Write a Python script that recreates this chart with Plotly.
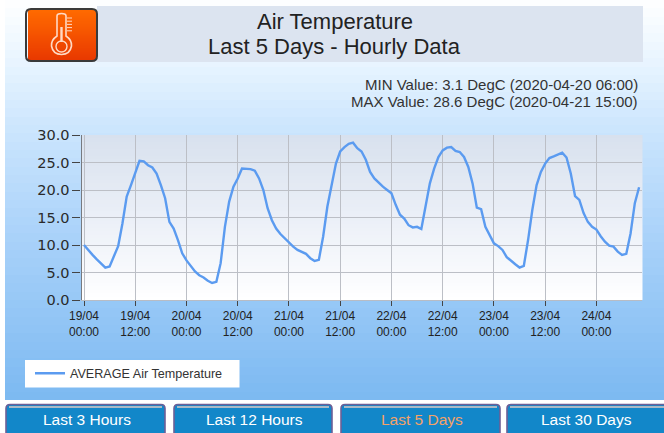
import pandas as pd
import plotly.graph_objects as go

W, H = 664, 433

hourly_temp = [
    10.0, 9.0, 8.2, 7.4, 6.7, 5.9, 6.1, 7.9, 9.8, 13.9, 18.8, 20.9,
    23.0, 25.3, 25.2, 24.5, 24.1, 23.0, 20.9, 18.5, 14.2, 13.0, 10.9, 8.5,
    7.2, 6.1, 5.2, 4.5, 4.1, 3.5, 3.1, 3.3, 6.7, 13.3, 17.9, 20.6,
    22.1, 23.9, 23.9, 23.8, 23.5, 22.1, 20.0, 16.7, 14.5, 13.0, 12.0, 11.2,
    10.5, 9.7, 9.1, 8.7, 8.4, 7.6, 7.1, 7.3, 11.5, 17.0, 20.9, 24.8,
    27.0, 27.8, 28.4, 28.6, 27.6, 27.0, 25.5, 23.3, 22.1, 21.3, 20.6, 20.0,
    19.4, 17.3, 15.5, 14.8, 13.6, 13.2, 13.3, 12.9, 17.3, 21.2, 23.9, 26.0,
    27.2, 27.7, 27.8, 27.1, 26.9, 26.0, 24.2, 21.2, 16.8, 16.5, 13.3, 11.8,
    10.3, 9.8, 9.1, 7.8, 7.1, 6.5, 5.9, 6.2, 10.9, 16.4, 20.9, 23.3,
    24.8, 25.8, 26.1, 26.4, 26.8, 25.9, 23.0, 18.9, 18.2, 15.8, 14.2, 13.3,
    12.8, 11.6, 10.6, 9.9, 9.7, 8.8, 8.2, 8.4, 12.1, 17.6, 20.5,
]
times = pd.date_range("2020-04-19 00:00", periods=len(hourly_temp), freq="h")
x_tick_times = pd.date_range("2020-04-19 00:00", periods=11, freq="12h")
x_tick_labels = [t.strftime("%d/%m<br>%H:%M") for t in x_tick_times]
y_ticks = [0, 5, 10, 15, 20, 25, 30]
y_labels = ["0.0", "5.0", "10.0", "15.0", "20.0", "25.0", "30.0"]
button_labels = ["Last 3 Hours", "Last 12 Hours", "Last 5 Days", "Last 30 Days"]
button_colors = ["#ffffff", "#ffffff", "#f5a267", "#ffffff"]
button_edges = [(6, 165), (174, 332), (341, 500), (507, 668)]
title_line_1 = "Air Temperature"
title_line_2 = "Last 5 Days - Hourly Data"
min_text = "MIN Value: 3.1 DegC (2020-04-20 06:00)"
max_text = "MAX Value: 28.6 DegC (2020-04-21 15:00)"
series_name = "AVERAGE Air Temperature"

FONT = "Liberation Sans"
LEFT, RIGHT, TOP, BOTTOM = 81.5, 642, 135, 300
PX_PER_HOUR = 4.27
FIRST_TICK_PX = 84


def gradient(x0, x1, y0, y1, colours, steps=48):
    edges = [y0 + (y1 - y0) * i / steps for i in range(steps + 1)]
    z = [[(i + 0.5) / steps] for i in range(steps)]
    return go.Heatmap(
        x=[x0, x1], y=edges, z=z, zmin=0, zmax=1, colorscale=colours,
        showscale=False, hoverinfo="skip", xaxis="x", yaxis="y",
    )


def rounded(x0, y0, x1, y1, r):
    return (
        f"M{x0 + r},{y0} L{x1 - r},{y0} Q{x1},{y0} {x1},{y0 + r} L{x1},{y1 - r} "
        f"Q{x1},{y1} {x1 - r},{y1} L{x0 + r},{y1} Q{x0},{y1} {x0},{y1 - r} "
        f"L{x0},{y0 + r} Q{x0},{y0} {x0 + r},{y0} Z"
    )


page_colours = [
    [0, "#ffffff"], [0.15, "#e9f5ff"], [0.34, "#c9e4fd"],
    [0.62, "#a6d0f9"], [1, "#7cb9f1"],
]
plot_colours = [[0, "#d8e1ee"], [0.55, "#edf1f8"], [1, "#ffffff"]]
icon_colours = [[0, "#ff6a00"], [0.5, "#f55200"], [1, "#e83800"]]

fig = go.Figure()
fig.add_trace(gradient(5, W, 0, 400, page_colours))
fig.add_trace(gradient(LEFT, RIGHT, TOP, BOTTOM, plot_colours))
fig.add_trace(gradient(28, 96, 10, 60, icon_colours))

fig.add_trace(go.Scatter(
    x=times, y=hourly_temp, mode="lines", name=series_name,
    line=dict(color="#5b9bf0", width=2.4, shape="linear"),
    xaxis="x2", yaxis="y2", showlegend=True,
))

ICON_LINE = "#ffd9c4"
shapes = [
    dict(type="rect", xref="x", yref="y", x0=97, x1=643, y0=6, y1=62,
         fillcolor="#dce4f0", line_width=0, layer="above"),
    dict(type="path", xref="x", yref="y", path=rounded(26, 9, 97, 61, 5),
         fillcolor="rgba(0,0,0,0)", line=dict(color="#3a3a3a", width=2), layer="above"),
    dict(type="path", xref="x", yref="y",
         path="M57,16 Q57,13.5 61.5,13.5 Q66,13.5 66,16 L66,36 "
              "Q72,40 71.5,46 Q70,54.5 61.5,54.5 Q53,54.5 51.5,46 Q51,40 57,36 Z",
         fillcolor="rgba(0,0,0,0)", line=dict(color=ICON_LINE, width=1.6), layer="above"),
    dict(type="line", xref="x", yref="y", x0=61.5, x1=61.5, y0=27, y1=42,
         line=dict(color=ICON_LINE, width=2.4), layer="above"),
    dict(type="circle", xref="x", yref="y", x0=56, x1=67, y0=41, y1=52,
         fillcolor="rgba(0,0,0,0)", line=dict(color=ICON_LINE, width=1.4), layer="above"),
    dict(type="rect", xref="x", yref="y", x0=25, x1=239.5, y0=360, y1=387.5,
         fillcolor="#ffffff", line_width=0, layer="above"),
    dict(type="rect", xref="x", yref="y", x0=0, x1=W, y0=400, y1=H,
         fillcolor="#ffffff", line_width=0, layer="above"),
]
for tick in range(5):
    shapes.append(dict(type="line", xref="x", yref="y", x0=67, x1=72,
                       y0=18 + tick * 3.2, y1=18 + tick * 3.2,
                       line=dict(color=ICON_LINE, width=1), layer="above"))

annotations = [
    dict(text=title_line_1, x=334.5, y=21.5, xref="x", yref="y", showarrow=False,
         font=dict(family=FONT, size=22, color="#222222")),
    dict(text=title_line_2, x=334, y=46, xref="x", yref="y", showarrow=False,
         font=dict(family=FONT, size=22, color="#222222")),
    dict(text=min_text, x=640, y=84, xref="x", yref="y", showarrow=False, xanchor="right",
         font=dict(family=FONT, size=15, color="#333333")),
    dict(text=max_text, x=640, y=101, xref="x", yref="y", showarrow=False, xanchor="right",
         font=dict(family=FONT, size=15, color="#333333")),
]
for label, colour, (x0, x1) in zip(button_labels, button_colors, button_edges):
    shapes.append(dict(type="path", xref="x", yref="y",
                       path=rounded(x0, 404.5, x1, 445, 4),
                       fillcolor="#1287c9", line=dict(color="#6d5f96", width=1.6), layer="above"))
    shapes.append(dict(type="line", xref="x", yref="y", x0=x0 + 3, x1=x1 - 3, y0=407, y1=407,
                       line=dict(color="#a9b9c6", width=2), layer="above"))
    annotations.append(dict(text=label, x=(x0 + min(x1, 664)) / 2 + 1, y=419.5, xref="x", yref="y",
                            showarrow=False, font=dict(family=FONT, size=15.5, color=colour)))

hour = pd.Timedelta(hours=1)
x_start = times[0] + (LEFT - FIRST_TICK_PX) / PX_PER_HOUR * hour
x_end = times[0] + (RIGHT - FIRST_TICK_PX) / PX_PER_HOUR * hour

fig.update_layout(
    width=W, height=H, autosize=False,
    margin=dict(l=0, r=0, t=0, b=0, pad=0, autoexpand=False),
    paper_bgcolor="#ffffff", plot_bgcolor="rgba(0,0,0,0)",
    font=dict(family=FONT),
    xaxis=dict(domain=[0, 1], range=[0, W], visible=False, fixedrange=True),
    yaxis=dict(domain=[0, 1], range=[H, 0], visible=False, fixedrange=True),
    xaxis2=dict(
        domain=[LEFT / W, RIGHT / W], range=[x_start, x_end], anchor="y2",
        tickvals=list(x_tick_times), ticktext=x_tick_labels,
        ticks="outside", ticklen=5, tickcolor="#444444", tickwidth=1,
        tickangle=0,
        showgrid=True, gridcolor="#bcbfc6", gridwidth=1.4,
        showline=True, linecolor="#b8bcc4", linewidth=1,
        tickfont=dict(family=FONT, size=12, color="#222222"),
        fixedrange=True,
    ),
    yaxis2=dict(
        domain=[1 - BOTTOM / H, 1 - TOP / H], range=[0, 30], anchor="x2",
        tickvals=y_ticks, ticktext=y_labels,
        ticks="outside", ticklen=8, tickcolor="#444444", tickwidth=1,
        showgrid=True, gridcolor="#bcbfc6", gridwidth=1.4,
        showline=True, linecolor="#777a80", linewidth=1.2,
        tickfont=dict(family="DejaVu Sans", size=14.5, color="#2a2a2a"),
        fixedrange=True, zeroline=False,
    ),
    legend=dict(
        x=30 / W, y=1 - 373.5 / H, xanchor="left", yanchor="middle",
        bgcolor="rgba(0,0,0,0)", borderwidth=0, itemwidth=30,
        font=dict(family=FONT, size=12.6, color="#333333"),
    ),
    shapes=shapes, annotations=annotations,
)
fig.write_html(
    "out.html",
    config=dict(displayModeBar=False),
    post_script="document.body.style.margin='0';document.documentElement.style.overflow='hidden';",
)
